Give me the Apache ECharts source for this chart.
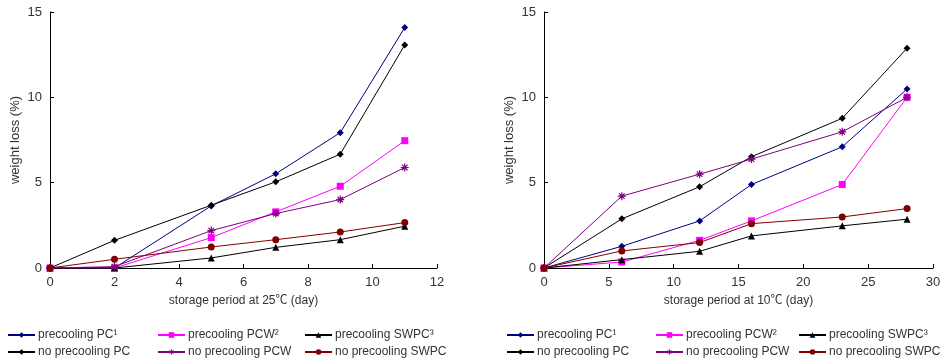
<!DOCTYPE html>
<html>
<head>
<meta charset="utf-8">
<script src="https://cdn.jsdelivr.net/npm/echarts@6/dist/echarts.min.js"></script>
<style>
  html, body { margin: 0; padding: 0; background: #fff; }
  #chart { width: 945px; height: 364px; }
</style>
</head>
<body>
<div id="chart"></div>
<script>
// Storage days for each panel
const days25 = [0, 2, 5, 7, 9, 11];
const days10 = [0, 6, 12, 16, 23, 28];

// Weight loss (%) at 25 °C
const pc25      = [0, 0, 3.64, 5.52, 7.93, 14.09];
const pcw25     = [0, 0, 1.78, 3.29, 4.79, 7.46];
const swpc25    = [0, 0, 0.59, 1.21, 1.66, 2.45];
const noPc25    = [0, 1.62, 3.68, 5.05, 6.67, 13.07];
const noPcw25   = [0, 0.08, 2.19, 3.19, 4.01, 5.89];
const noSwpc25  = [0, 0.51, 1.23, 1.66, 2.11, 2.66];

// Weight loss (%) at 10 °C
const pc10      = [0, 1.27, 2.76, 4.89, 7.10, 10.49];
const pcw10     = [0, 0.35, 1.62, 2.76, 4.89, 10.0];
const swpc10    = [0, 0.49, 0.98, 1.88, 2.47, 2.86];
const noPc10    = [0, 2.88, 4.76, 6.52, 8.77, 12.88];
const noPcw10   = [0, 4.21, 5.50, 6.38, 7.98, 10.0];
const noSwpc10  = [0, 1.00, 1.49, 2.60, 2.99, 3.48];

const seriesNames = [
  'precooling PC\u00B9', 'precooling PCW\u00B2', 'precooling SWPC\u00B3',
  'no precooling PC', 'no precooling PCW', 'no precooling SWPC'
];

const FONT = '"Liberation Sans", Arial, "Noto Sans CJK KR", sans-serif';
const TEXT = '#333';

const asterisk = 'path://M0,5 L10,5 M5,0 L5,10 M1.5,1.5 L8.5,8.5 M8.5,1.5 L1.5,8.5';

const styles = [
  { color: '#000080', symbol: 'diamond', size: 7 },
  { color: '#ff00ff', symbol: 'rect', size: 7 },
  { color: '#000000', symbol: 'triangle', size: 7 },
  { color: '#000000', symbol: 'diamond', size: 7 },
  { color: '#800080', symbol: asterisk, size: 8 },
  { color: '#800000', symbol: 'circle', size: 7 }
];

function pairs(xs, ys) { return xs.map((x, i) => [x, ys[i]]); }

const panels = [
  { xs: days25, sets: [pc25, pcw25, swpc25, noPc25, noPcw25, noSwpc25] },
  { xs: days10, sets: [pc10, pcw10, swpc10, noPc10, noPcw10, noSwpc10] }
];

const series = [];
panels.forEach((p, gi) => {
  p.sets.forEach((vals, si) => {
    const st = styles[si];
    series.push({
      name: seriesNames[si],
      type: 'line',
      xAxisIndex: gi,
      yAxisIndex: gi,
      data: pairs(p.xs, vals),
      symbol: st.symbol,
      symbolSize: st.size,
      lineStyle: { color: st.color, width: 1 },
      itemStyle: { color: st.color, borderColor: st.color, borderWidth: st.symbol === asterisk ? 1.2 : 0 },
      emphasis: { disabled: true },
      animation: false,
      z: 2 + si
    });
  });
});

function xAxis(gi, max, interval, name) {
  return {
    type: 'value', gridIndex: gi, min: 0, max: max, interval: interval,
    name: name, nameLocation: 'middle', nameGap: 27,
    nameTextStyle: { fontFamily: FONT, fontSize: 12, color: TEXT },
    axisLine: { onZero: false, lineStyle: { color: '#000', width: 1 } },
    axisTick: { show: true, inside: true, length: 4, lineStyle: { color: '#000' } },
    axisLabel: { fontFamily: FONT, fontSize: 13, color: TEXT, margin: 8 },
    splitLine: { show: false }
  };
}
function yAxis(gi) {
  return {
    type: 'value', gridIndex: gi, min: 0, max: 15, interval: 5,
    name: 'weight loss (%)', nameLocation: 'middle', nameGap: 28, nameRotate: 90,
    nameTextStyle: { fontFamily: FONT, fontSize: 13, color: TEXT },
    axisLine: { show: true, lineStyle: { color: '#000', width: 1 } },
    axisTick: { show: true, inside: true, length: 4, lineStyle: { color: '#000' } },
    axisLabel: { fontFamily: FONT, fontSize: 13, color: TEXT, margin: 8 },
    splitLine: { show: false }
  };
}

// Legend: one component per entry, laid out in 3 columns x 2 rows for each panel
const legendCols = [
  [7, 157, 304],
  [506, 655, 798]
];
const legendRows = [329, 346];
const legends = [];
legendCols.forEach(cols => {
  seriesNames.forEach((nm, i) => {
    legends.push({
      data: [nm],
      left: cols[i % 3],
      top: legendRows[Math.floor(i / 3)],
      itemWidth: 27,
      itemHeight: 7,
      itemGap: 0,
      padding: 0,
      selectedMode: false,
      itemStyle: { borderWidth: i === 4 ? 0.8 : 0 },
      textStyle: { fontFamily: FONT, fontSize: 12, color: TEXT, padding: [0, 0, 0, -2] }
    });
  });
});

const chart = echarts.init(document.getElementById('chart'), null, { renderer: 'canvas' });
chart.setOption({
  animation: false,
  backgroundColor: '#fff',
  grid: [
    { left: 50, right: 508, top: 12, bottom: 96 },
    { left: 544, right: 12, top: 12, bottom: 96 }
  ],
  xAxis: [
    xAxis(0, 12, 2, 'storage period at 25\u2103 (day)'),
    xAxis(1, 30, 5, 'storage period at 10\u2103 (day)')
  ],
  yAxis: [yAxis(0), yAxis(1)],
  legend: legends,
  series: series
});
</script>
</body>
</html>
